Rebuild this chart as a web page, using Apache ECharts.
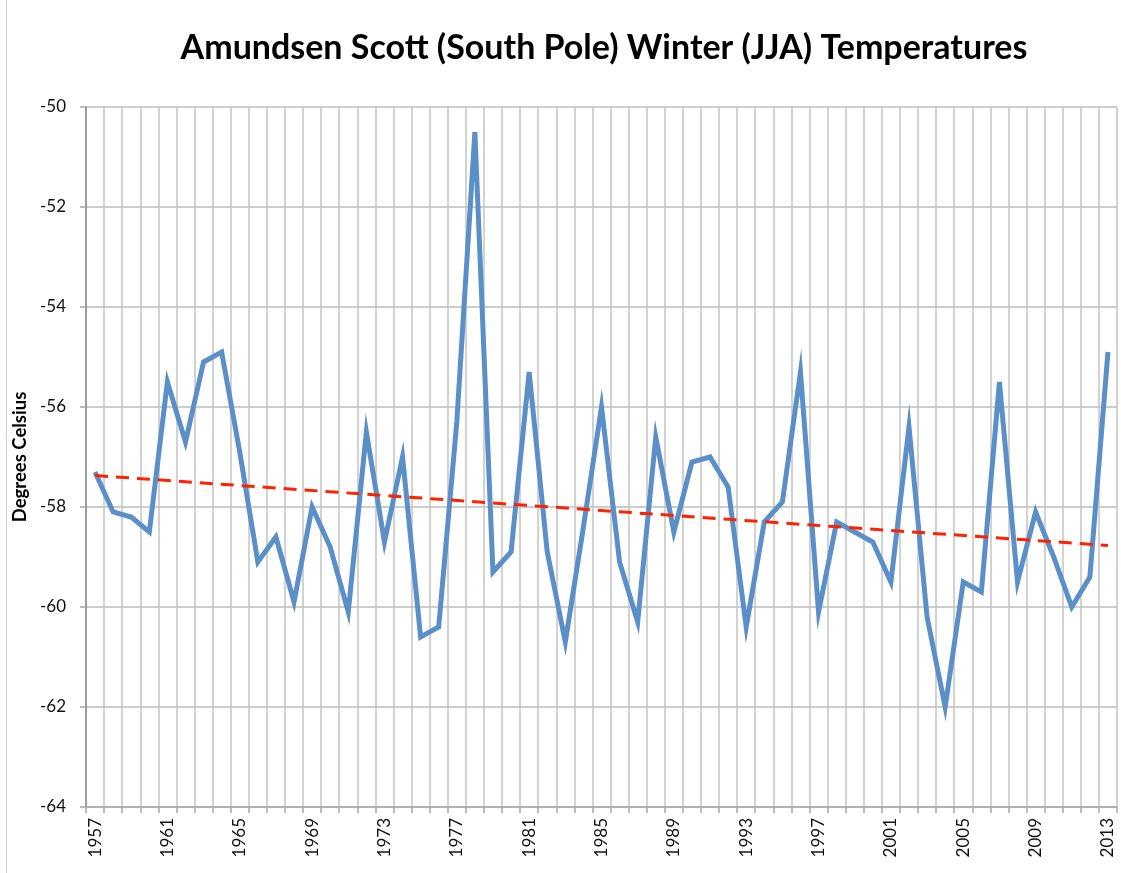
<!DOCTYPE html>
<html>
<head>
<meta charset="utf-8">
<script src="https://cdn.jsdelivr.net/npm/echarts@6/dist/echarts.min.js"></script>
<style>
	html, body { margin: 0; padding: 0; background: #fff; }
	#chart { width: 1121px; height: 873px; }
</style>
</head>
<body>
<div id="chart"></div>
<script>
// years 1957..2013
var years = [];
for (var y = 1957; y <= 2013; y++) years.push(String(y));

// winter (JJA) mean temperature, deg C
var temps = [
	-57.3, -58.1, -58.2, -58.5, -55.5, -56.7, -55.1, -54.9, -56.9, -59.1,
	-58.6, -59.9, -58.0, -58.8, -60.1, -56.5, -58.7, -57.0, -60.6, -60.4,
	-56.3, -50.5, -59.3, -58.9, -55.3, -58.9, -60.7, -58.4, -56.0, -59.1,
	-60.3, -56.6, -58.5, -57.1, -57.0, -57.6, -60.4, -58.3, -57.9, -55.3,
	-60.1, -58.3, -58.5, -58.7, -59.5, -56.4, -60.2, -62.0, -59.5, -59.7,
	-55.5, -59.5, -58.1, -59.0, -60.0, -59.4, -54.9
];

// linear trend, end points as drawn
var trendStart = -57.37;
var trendEnd = -58.77;

var yTicks = [-64, -62, -60, -58, -56, -54, -52, -50];

var chart = echarts.init(document.getElementById('chart'));

var option = {
	backgroundColor: '#fff',
	animation: false,
	title: {
		text: 'Amundsen Scott (South Pole) Winter (JJA) Temperatures',
		left: 599,
		textAlign: 'center',
		top: 26,
		textStyle: {
			fontFamily: 'Lato',
			fontWeight: 'bold',
			fontSize: 34,
			color: '#000'
		}
	},
	grid: {
		left: 86,
		right: 4,
		top: 107,
		bottom: 66
	},
	xAxis: {
		type: 'category',
		data: years,
		boundaryGap: true,
		axisLine: { lineStyle: { color: '#a6a6a6', width: 1.5 } },
		axisTick: { show: true, interval: 0, length: 6, lineStyle: { color: '#a6a6a6', width: 1.5 } },
		splitLine: { show: true, interval: 0, lineStyle: { color: '#c3c3c3', width: 1.5 } },
		axisLabel: {
			interval: 3,
			rotate: 90,
			margin: 11,
			fontFamily: 'Lato',
			fontSize: 17,
			color: '#111'
		}
	},
	yAxis: {
		type: 'value',
		min: yTicks[0],
		max: yTicks[yTicks.length - 1],
		interval: 2,
		name: 'Degrees Celsius',
		nameLocation: 'middle',
		nameGap: 53,
		nameRotate: 90,
		nameTextStyle: {
			fontFamily: 'Lato',
			fontWeight: 'bold',
			fontSize: 18.5,
			color: '#000'
		},
		axisLine: { show: true, lineStyle: { color: '#8c8c8c', width: 1.5 } },
		axisTick: { show: true, length: 6, lineStyle: { color: '#a6a6a6', width: 1.5 } },
		splitLine: { show: true, lineStyle: { color: '#bdbdbd', width: 1.5 } },
		axisLabel: {
			margin: 20,
			fontFamily: 'Lato',
			fontSize: 17,
			color: '#111'
		}
	},
	series: [
		{
			name: 'Temperature',
			type: 'line',
			data: temps,
			symbol: 'none',
			lineStyle: { color: '#5a8fc8', width: 5, join: 'miter' },
			z: 3
		},
		{
			name: 'Trend',
			type: 'line',
			data: [[0, trendStart], [years.length - 1, trendEnd]],
			symbol: 'none',
			lineStyle: { color: '#ff2200', width: 3, type: [13, 8] },
			z: 4
		}
	],
	graphic: [
		{
			type: 'line',
			shape: { x1: 6.5, y1: 0, x2: 6.5, y2: 873 },
			style: { stroke: '#d0d0d0', lineWidth: 1 }
		}
	]
};

chart.setOption(option);
</script>
</body>
</html>
